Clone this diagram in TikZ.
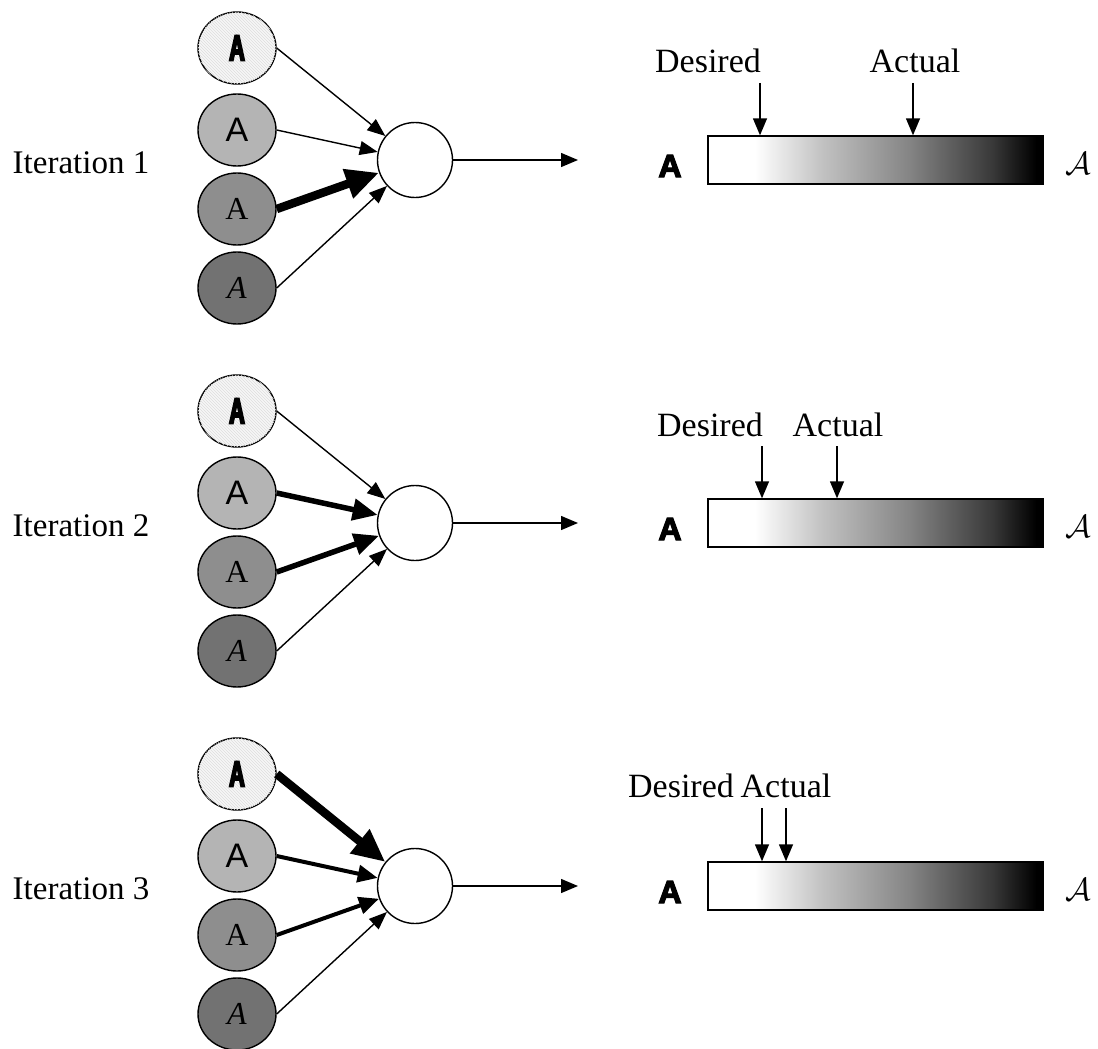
\RequirePackage{fix-cm}
\documentclass[tikz,border=0pt]{standalone}
\usepackage{fontspec}
\setmainfont{Liberation Serif}
\newfontfamily\sansA{Liberation Sans}
\newfontfamily\heavyA{Liberation Sans Bold}[FakeBold=4]
\newfontfamily\narrowA{Liberation Sans Bold}[FakeBold=5,FakeStretch=0.6]
\usetikzlibrary{arrows.meta,shapes.geometric,patterns}

% white on the left, black on the right
\pgfdeclarehorizontalshading{barfade}{100bp}{color(0bp)=(white); color(32bp)=(white);
  color(42bp)=(black!24); color(55bp)=(black!48); color(67.5bp)=(black!78);
  color(74bp)=(black); color(100bp)=(black)}

\definecolor{shadeB}{HTML}{B4B4B4}
\definecolor{shadeC}{HTML}{8E8E8E}
\definecolor{shadeD}{HTML}{727272}

\tikzset{
  inp/.style={ellipse, draw, line width=1.4pt, minimum width=78pt, minimum height=72pt, inner sep=0pt},
  inpA/.style={inp, fill=black!3, postaction={pattern=north west lines, pattern color=black!13},
    font=\narrowA\fontsize{36}{36}\selectfont},
  inpB/.style={inp, fill=shadeB, font=\sansA\fontsize{34}{34}\selectfont},
  inpC/.style={inp, fill=shadeC, font=\fontsize{32}{32}\selectfont},
  inpD/.style={inp, fill=shadeD, font=\fontsize{32}{32}\selectfont\itshape},
  neuron/.style={circle, draw, line width=1.4pt, fill=white, minimum size=75pt, inner sep=0pt},
  wthin/.style={line width=1.4pt, -{Triangle[length=18pt,width=14pt]}},
  wlow/.style={line width=4pt, -{Triangle[length=20pt,width=17pt]}},
  wmid/.style={line width=5.5pt, -{Triangle[length=25pt,width=21pt]}},
  wthick/.style={line width=8.5pt, -{Triangle[length=33pt,width=29pt]}},
  outarrow/.style={line width=1.4pt, -{Triangle[length=17pt,width=14pt]}},
  downarrow/.style={line width=1.4pt, -{Triangle[length=17pt,width=14pt]}},
  bar/.style={rectangle, draw, line width=1.4pt, shading=barfade, minimum width=335pt, minimum height=48pt, inner sep=0pt},
  endlo/.style={font=\heavyA\fontsize{32}{32}\selectfont, inner sep=0pt},
  endhi/.style={font=\fontsize{32}{32}\selectfont, inner sep=0pt},
  lab/.style={font=\fontsize{34}{40}\selectfont, anchor=base, inner sep=0pt},
  itlab/.style={font=\fontsize{33}{40}\selectfont, anchor=base, inner sep=0pt},
}

\begin{document}
\begin{tikzpicture}[x=1pt,y=-1pt]
\useasboundingbox (0,0) rectangle (1098,1049);

\foreach \k/\dy in {1/0,2/363,3/726}{
  \begin{scope}[yshift=-\dy pt]
    \node[itlab] (it\k) at (81,173) {Iteration \k};
    \node[inpA] (a\k) at (237,48) {A};
    \node[inpB] (b\k) at (237,130) {A};
    \node[inpC] (c\k) at (237,209) {A};
    \node[inpD] (d\k) at (237,288) {A};
    \node[neuron] (n\k) at (415,160) {};
    \coordinate (o\k) at (578,160);
    \draw[outarrow] (n\k.east) -- (o\k);
    \node[bar] (bar\k) at (875.5,160) {};
    \node[endlo] (lo\k) at (670,166) {A};
    \node[endhi] (hi\k) at (1078,164) {$\mathcal{A}$};
  \end{scope}
}

% connection weights of each iteration
\draw[wthin]  (a1.east) -- (n1);
\draw[wthin]  (b1.east) -- (n1);
\draw[wthick] (c1.east) -- (n1);
\draw[wthin]  (d1.east) -- (n1);

\draw[wthin]  (a2.east) -- (n2);
\draw[wmid]   (b2.east) -- (n2);
\draw[wmid]   (c2.east) -- (n2);
\draw[wthin]  (d2.east) -- (n2);

\draw[wthick] (a3.east) -- (n3);
\draw[wlow]   (b3.east) -- (n3);
\draw[wlow]   (c3.east) -- (n3);
\draw[wthin]  (d3.east) -- (n3);

% desired and actual markers over the scales
\node[lab] (des1) at (708,73) {Desired};
\node[lab] (act1) at (915,73) {Actual};
\coordinate (pd1) at (760,83);
\coordinate (pa1) at (913,83);
\draw[downarrow] (pd1) -- (pd1 |- bar1.north);
\draw[downarrow] (pa1) -- (pa1 |- bar1.north);

\node[lab] (des2) at (710,436) {Desired};
\node[lab] (act2) at (838,436) {Actual};
\coordinate (pd2) at (762,446);
\coordinate (pa2) at (837,446);
\draw[downarrow] (pd2) -- (pd2 |- bar2.north);
\draw[downarrow] (pa2) -- (pa2 |- bar2.north);

\node[lab] (des3) at (681,797) {Desired};
\node[lab] (act3) at (786,797) {Actual};
\coordinate (pd3) at (762,808);
\coordinate (pa3) at (786,808);
\draw[downarrow] (pd3) -- (pd3 |- bar3.north);
\draw[downarrow] (pa3) -- (pa3 |- bar3.north);
\end{tikzpicture}
\end{document}
